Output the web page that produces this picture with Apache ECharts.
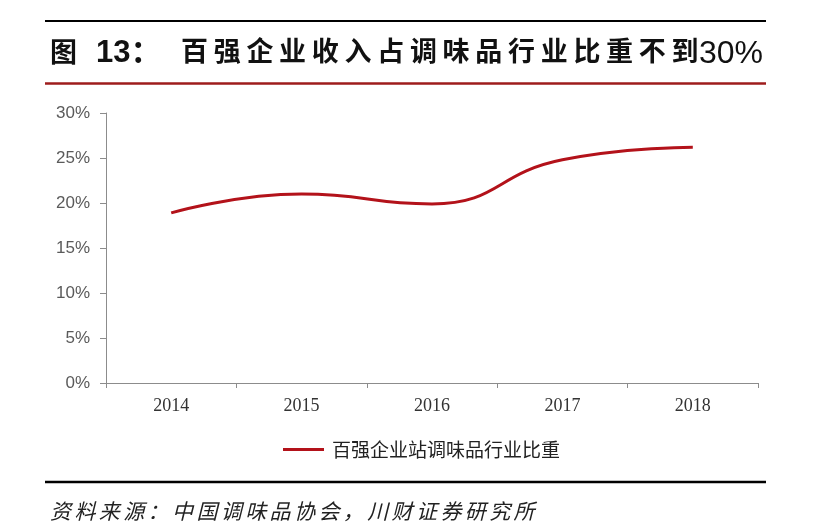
<!DOCTYPE html>
<html>
<head>
<meta charset="utf-8">
<script src="https://cdn.jsdelivr.net/npm/echarts@6/dist/echarts.min.js"></script>
<style>
html,body{margin:0;padding:0;background:#fff;}
#chart{width:815px;height:532px;}
</style>
</head>
<body>
<div id="chart"></div>
<script>
// ---- data ----
var categories = ['2014', '2015', '2016', '2017', '2018'];
var shareValues = [18.9, 21.0, 19.9, 24.8, 26.2]; // %
var seriesName = '百强企业站调味品行业比重';
var yTicks = [0, 5, 10, 15, 20, 25, 30];
var titlePrefix = '图';
var titleNumber = '13：';
var titleBody = '百强企业收入占调味品行业比重不到';
var titleTail = '30%';
var sourceText = '资料来源：中国调味品协会，川财证券研究所';

// ---- helpers ----
function spacedChars(str, x0, cy, pitch, style) {
  var out = [];
  for (var i = 0; i < str.length; i++) {
    out.push({
      type: 'text', left: x0 + i * pitch, top: cy - style.fontSize / 2 - 1,
      style: Object.assign({ text: str[i] }, style)
    });
  }
  return out;
}

var titleStyle = { fontSize: 27, fontWeight: 'bold', fill: '#111', fontFamily: 'Noto Sans CJK SC' };
var srcStyle = { fontSize: 21, fontStyle: 'italic', fill: '#222', fontFamily: 'Noto Sans CJK SC' };

var graphics = [
  { type: 'line', shape: { x1: 45, y1: 21, x2: 766, y2: 21 }, style: { stroke: '#000', lineWidth: 2 } },
  { type: 'line', shape: { x1: 45, y1: 83.5, x2: 766, y2: 83.5 }, style: { stroke: '#9e1c1c', lineWidth: 2.5 } },
  { type: 'line', shape: { x1: 45, y1: 482, x2: 766, y2: 482 }, style: { stroke: '#000', lineWidth: 2.5 } },
  { type: 'text', left: 50, top: 38, style: Object.assign({ text: titlePrefix }, titleStyle) },
  { type: 'text', left: 96, top: 38, style: { text: titleNumber, fontSize: 31, fontWeight: 'bold', fill: '#111', fontFamily: 'Liberation Sans, Noto Sans CJK SC' } },
  { type: 'text', left: 699, top: 38, style: { text: titleTail, fontSize: 32, fill: '#111', fontFamily: 'Liberation Sans Narrow, Liberation Sans' } }
];
graphics = graphics.concat(spacedChars(titleBody, 181, 52, 32.7, titleStyle));
graphics = graphics.concat(spacedChars(sourceText, 50, 512, 24.4, srcStyle));

var chart = echarts.init(document.getElementById('chart'));
chart.setOption({
  backgroundColor: '#fff',
  animation: false,
  graphic: graphics,
  grid: { left: 106, right: 57, top: 113, bottom: 149, containLabel: false },
  legend: {
    data: [seriesName],
    left: 278, top: 435,
    itemWidth: 41, itemHeight: 3, itemGap: 6,
    icon: 'rect',
    textStyle: { fontSize: 19, color: '#222', fontFamily: 'Noto Sans CJK SC', padding: [0, 0, 0, 3] }
  },
  xAxis: {
    type: 'category',
    data: categories,
    boundaryGap: true,
    axisLine: { lineStyle: { color: '#8c8c8c', width: 1 } },
    axisTick: { show: true, length: 5, lineStyle: { color: '#8c8c8c' } },
    axisLabel: { fontSize: 18, color: '#333', fontFamily: 'Liberation Serif, DejaVu Serif', margin: 14 },
    splitLine: { show: false }
  },
  yAxis: {
    type: 'value',
    min: yTicks[0], max: yTicks[yTicks.length - 1], interval: 5,
    axisLine: { show: true, lineStyle: { color: '#8c8c8c', width: 1 } },
    axisTick: { show: true, length: 6, lineStyle: { color: '#8c8c8c' } },
    axisLabel: { fontSize: 17, color: '#5a5a5a', fontFamily: 'Liberation Sans Narrow, Liberation Sans', margin: 16, formatter: '{value}%' },
    splitLine: { show: false }
  },
  series: [{
    name: seriesName,
    type: 'line',
    data: shareValues,
    smooth: 0.5,
    symbol: 'none',
    itemStyle: { color: '#b3121a' },
    lineStyle: { color: '#b3121a', width: 3 }
  }]
});
</script>
</body>
</html>
